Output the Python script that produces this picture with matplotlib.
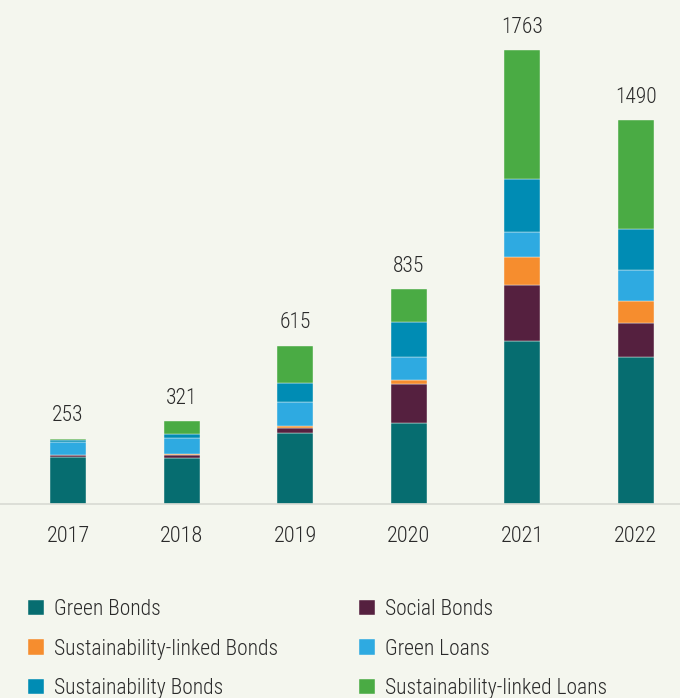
import matplotlib.pyplot as plt
import numpy as np

# Data (USD bn)
years = ['2017', '2018', '2019', '2020', '2021', '2022']
green_bonds = [181, 180, 276, 314, 633, 571]
social_bonds = [9, 12, 18, 151, 217, 130]
sl_bonds = [0, 1, 7, 16, 110, 87]
green_loans = [50, 63, 94, 90, 98, 122]
sust_bonds = [7, 16, 73, 137, 202, 158]
sl_loans = [6, 49, 147, 127, 503, 422]
totals = [253, 321, 615, 835, 1763, 1490]

names = ['Green Bonds', 'Social Bonds', 'Sustainability-linked Bonds',
         'Green Loans', 'Sustainability Bonds', 'Sustainability-linked Loans']
colors = ['#066d70', '#55203f', '#f68d2e', '#2eaae1', '#008cb4', '#4aab44']
values = [green_bonds, social_bonds, sl_bonds, green_loans, sust_bonds, sl_loans]

bg = '#f4f6ee'
txt_color = '#2a2a2a'
plt.rcParams['font.family'] = ['Roboto Condensed', 'DejaVu Sans']
plt.rcParams['font.weight'] = 'light'

fig = plt.figure(figsize=(6.8, 6.98), dpi=100, facecolor=bg)
ax = fig.add_axes([0, 0.278, 1, 0.722], facecolor=bg)

x = np.arange(len(years))
bottom = np.zeros(len(years))
handles = {}
for name, vals, color in zip(names, values, colors):
    b = ax.bar(x, vals, 0.317, bottom=bottom, color=color, label=name,
               edgecolor=bg, linewidth=0.3)
    handles[name] = b
    bottom += np.array(vals)

# total labels above each bar
for xi, t in zip(x, totals):
    ax.annotate(str(t), (xi, t), xytext=(0, 12.5), textcoords='offset points',
                ha='center', va='baseline', fontsize=15.5, color=txt_color)

ax.set_xlim(-0.6, 5.39)
ax.set_ylim(0, 1957)
ax.set_xticks(x)
ax.set_xticklabels(years, fontsize=16, color=txt_color)
ax.tick_params(axis='x', length=0, pad=16)
ax.set_yticks([])
for s in ['top', 'right', 'left']:
    ax.spines[s].set_visible(False)
ax.spines['bottom'].set_color('#d8dad3')
ax.spines['bottom'].set_linewidth(1.2)

# legend in two columns
leg_kw = dict(loc='upper left', frameon=False, fontsize=15.5,
              handlelength=0.75, handleheight=0.75, handletextpad=0.45,
              labelspacing=0.86, labelcolor=txt_color,
              borderpad=0, borderaxespad=0)
col1 = ['Green Bonds', 'Sustainability-linked Bonds', 'Sustainability Bonds']
col2 = ['Social Bonds', 'Green Loans', 'Sustainability-linked Loans']
leg1 = fig.legend([handles[n] for n in col1], col1,
                  bbox_to_anchor=(28 / 680, 1 - 599 / 698), **leg_kw)
leg2 = fig.legend([handles[n] for n in col2], col2,
                  bbox_to_anchor=(359 / 680, 1 - 599 / 698), **leg_kw)

fig.savefig('out.png', dpi=100, facecolor=bg)
